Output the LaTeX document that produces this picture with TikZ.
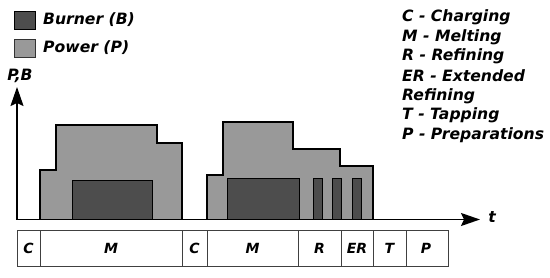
\documentclass[tikz,border=0pt]{standalone}
\usepackage{fontspec}
\setmainfont{DejaVu Sans}
\usetikzlibrary{arrows.meta}
\definecolor{powc}{HTML}{999999}
\definecolor{burc}{HTML}{4D4D4D}
\tikzset{
  lbl/.style={font=\fontsize{15.6}{18}\selectfont\bfseries\itshape, inner sep=0pt, anchor=west},
  cell/.style={font=\fontsize{14}{16}\selectfont\bfseries\itshape, inner sep=0pt},
  pow/.style={fill=powc, draw=black, line width=2.4pt, line join=miter},
  bur/.style={fill=burc, draw=black, line width=1pt},
  axis/.style={line width=1.6pt, -{Stealth[length=19pt,width=13pt,inset=3pt]}},
  tab/.style={draw=black!75, line width=0.9pt}
}
\begin{document}
\begin{tikzpicture}[x=1pt,y=-1pt]
\useasboundingbox (0,0) rectangle (550,277);
% legend
\draw[bur] (14,11) rectangle (35,29);
\draw[fill=powc, draw=black!80, line width=1pt] (14,39) rectangle (35,57);
\node[lbl] (lb) at (43,20) {Burner (B)};
\node[lbl] (lp) at (43,48) {Power (P)};
% right legend
\node[lbl] (k1) at (402,17) {C - Charging};
\node[lbl] (k2) at (402,37) {M - Melting};
\node[lbl] (k3) at (402,56.5) {R - Refining};
\node[lbl] (k4) at (402,76) {ER - Extended};
\node[lbl] (k5) at (402,96) {Refining};
\node[lbl] (k6) at (402,115.5) {T - Tapping};
\node[lbl] (k7) at (402,135) {P - Preparations};
% power profiles
\draw[pow] (40,219) -- (40,170) -- (56,170) -- (56,125) -- (157,125) -- (157,143) -- (182,143) -- (182,219);
\draw[bur] (72,219) rectangle (152,180);
\draw[pow] (207,219) -- (207,175) -- (223,175) -- (223,122) -- (293,122) -- (293,149) -- (340,149) -- (340,166) -- (373,166) -- (373,219);
\draw[bur] (227,219) rectangle (299,178);
\draw[bur] (313,219) rectangle (322,178);
\draw[bur] (332,219) rectangle (341,178);
\draw[bur] (352,219) rectangle (361,178);
% axes
\coordinate (o) at (17,219.5);
\coordinate (ytop) at (17,87);
\coordinate (xend) at (480,219.5);
\draw[axis] (o) -- (ytop);
\draw[axis] (o) -- (xend);
\node[lbl, anchor=center] (yl) at (20,75.5) {P,B};
\node[lbl, anchor=center] (xl) at (492,217) {t};
% table
\draw[tab] (17,230) rectangle (448,266);
\foreach \x in {40,182,207,298,341,373,406} \draw[tab] (\x,230) -- (\x,266);
\node[cell] (c1) at (28.5,248) {C};
\node[cell] (c2) at (111,248) {M};
\node[cell] (c3) at (194.5,248) {C};
\node[cell] (c4) at (252.5,248) {M};
\node[cell] (c5) at (319.5,248) {R};
\node[cell] (c6) at (357,248) {ER};
\node[cell] (c7) at (389.5,248) {T};
\node[cell] (c8) at (426,248) {P};
\end{tikzpicture}
\end{document}
